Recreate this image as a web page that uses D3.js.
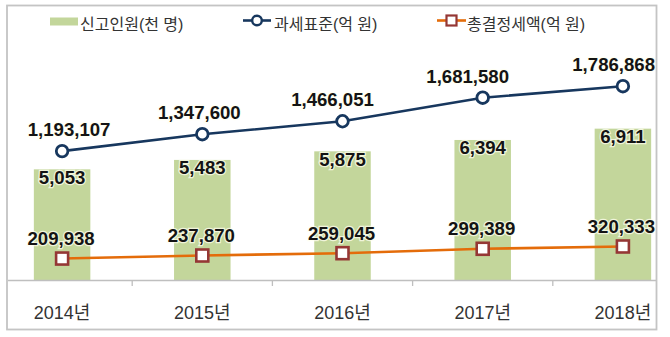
<!DOCTYPE html>
<html>
<head>
<meta charset="utf-8">
<script src="https://cdn.jsdelivr.net/npm/d3@7"></script>
<style>
  html, body { margin: 0; padding: 0; background: #fff; }
  svg { display: block; }
  text { font-family: "Liberation Sans", "Noto Sans CJK KR", sans-serif; }
</style>
</head>
<body>
<svg id="chart" width="670" height="337"></svg>
<script>
// ---- data ----
const years = ["2014년", "2015년", "2016년", "2017년", "2018년"];
const filers = [5053, 5483, 5875, 6394, 6911];                    // 신고인원(천 명)
const taxBase = [1193107, 1347600, 1466051, 1681580, 1786868];     // 과세표준(억 원)
const taxAmount = [209938, 237870, 259045, 299389, 320333];        // 총결정세액(억 원)
const seriesNames = ["신고인원(천 명)", "과세표준(억 원)", "총결정세액(억 원)"];

// ---- layout / style ----
const W = 670, H = 337;
const frame = { x0: 7, y0: 5.5, x1: 656.5, y1: 329.5 };
const baseY = 280;
const colBar = "#c3d69b", colNavy = "#17375e", colOrange = "#e46c0a", colRed = "#953735";
const baseLabelDx = [7, -3, -10, -15, 0]; // manual label nudges as in the source chart

const svg = d3.select("#chart");

svg.append("defs").append("clipPath").attr("id", "clip")
  .append("rect").attr("x", frame.x0 + 1).attr("y", frame.y0)
  .attr("width", frame.x1 - frame.x0 - 1.5).attr("height", frame.y1 - frame.y0);

const x = d3.scaleBand().domain(years).range([-8, 693]).paddingInner(0.597).paddingOuter(0.2985);
const cx = d => x(d) + x.bandwidth() / 2;
const yBar = d3.scaleLinear().domain([0, 10000]).range([baseY, 61]);
const yLine = d3.scaleLinear().domain([0, 2000000]).range([281.5, 62.9]);

const g = svg.append("g").attr("clip-path", "url(#clip)");

// bars
g.selectAll("rect.bar").data(years).join("rect").attr("class", "bar")
  .attr("x", d => x(d)).attr("width", x.bandwidth())
  .attr("y", (d, i) => yBar(filers[i]))
  .attr("height", (d, i) => baseY - yBar(filers[i]))
  .attr("fill", colBar);

// x axis
const axis = d3.axisBottom(x).tickSize(0).tickPadding(26);
const ax = g.append("g").attr("transform", `translate(0,${baseY})`).call(axis);
ax.select(".domain").attr("stroke", "#bfbfbf").attr("stroke-width", 1.3);
ax.selectAll(".tick text").attr("fill", "#333").style("font-size", "18px")
  .style("font-family", "\"Liberation Sans\", \"Noto Sans CJK KR\", sans-serif");
// category boundary ticks
g.selectAll("line.btick").data(years.slice(0, -1)).join("line").attr("class", "btick")
  .attr("x1", d => cx(d) + x.step() / 2).attr("x2", d => cx(d) + x.step() / 2)
  .attr("y1", baseY).attr("y2", baseY + 6)
  .attr("stroke", "#bfbfbf").attr("stroke-width", 1.3);

// lines
const line1 = d3.line().x((d, i) => cx(years[i])).y(d => yLine(d));
g.append("path").datum(taxBase).attr("d", line1)
  .attr("fill", "none").attr("stroke", colNavy).attr("stroke-width", 2.6);
g.append("path").datum(taxAmount).attr("d", line1)
  .attr("fill", "none").attr("stroke", colOrange).attr("stroke-width", 2.6);

// markers
g.selectAll("circle.m").data(taxBase).join("circle").attr("class", "m")
  .attr("cx", (d, i) => cx(years[i])).attr("cy", d => yLine(d)).attr("r", 5.8)
  .attr("fill", "#fff").attr("stroke", colNavy).attr("stroke-width", 2.8);
const sq = 12;
g.selectAll("rect.sq").data(taxAmount).join("rect").attr("class", "sq")
  .attr("x", (d, i) => cx(years[i]) - sq / 2).attr("y", d => yLine(d) - sq / 2)
  .attr("width", sq).attr("height", sq)
  .attr("fill", "#fff").attr("stroke", colRed).attr("stroke-width", 2.6);

// data labels
const fmt = d3.format(",");
const labelFont = "bold 18.6px 'Liberation Sans', sans-serif";
function addLabels(values, xs, ys) {
  g.selectAll(null).data(values).join("text")
    .text(d => fmt(d))
    .attr("x", (d, i) => xs(d, i)).attr("y", (d, i) => ys(d, i))
    .attr("text-anchor", "middle")
    .style("font", labelFont).attr("fill", "#141414")
    .attr("stroke", "rgba(255,255,240,0.75)").attr("stroke-width", 2.5)
    .attr("paint-order", "stroke")
    .each(function () {
      // keep labels inside the frame on the right like the source
      const bb = this.getBBox();
      const over = bb.x + bb.width - (frame.x1 - 1.5);
      if (over > 0) d3.select(this).attr("x", +d3.select(this).attr("x") - over);
    });
}
addLabels(filers, (d, i) => cx(years[i]), d => yBar(d) + 14.5);
addLabels(taxBase, (d, i) => cx(years[i]) + baseLabelDx[i], d => yLine(d) - 15);
addLabels(taxAmount, (d, i) => cx(years[i]) - 1, d => yLine(d) - 13.5);

// frame
svg.append("rect").attr("x", frame.x0).attr("y", frame.y0)
  .attr("width", frame.x1 - frame.x0).attr("height", frame.y1 - frame.y0)
  .attr("fill", "none").attr("stroke", "#c4c4c4").attr("stroke-width", 1.8);

// legend
const lg = svg.append("g");
const legFont = { size: "16px", color: "#333" };
lg.append("rect").attr("x", 50).attr("y", 17.5).attr("width", 28).attr("height", 8).attr("fill", colBar);
lg.append("text").attr("x", 80).attr("y", 30).text(seriesNames[0])
  .style("font-size", legFont.size).attr("fill", legFont.color);

lg.append("line").attr("x1", 243).attr("x2", 271).attr("y1", 20.5).attr("y2", 20.5)
  .attr("stroke", colNavy).attr("stroke-width", 2.6);
lg.append("circle").attr("cx", 257).attr("cy", 20.5).attr("r", 4.8)
  .attr("fill", "#fff").attr("stroke", colNavy).attr("stroke-width", 2.4);
lg.append("text").attr("x", 274).attr("y", 30).text(seriesNames[1])
  .style("font-size", legFont.size).attr("fill", legFont.color);

lg.append("line").attr("x1", 437).attr("x2", 466).attr("y1", 20.5).attr("y2", 20.5)
  .attr("stroke", colOrange).attr("stroke-width", 2.6);
lg.append("rect").attr("x", 451.5 - 5).attr("y", 20.5 - 5).attr("width", 10).attr("height", 10)
  .attr("fill", "#fff").attr("stroke", colRed).attr("stroke-width", 2.2);
lg.append("text").attr("x", 467).attr("y", 30).text(seriesNames[2])
  .style("font-size", legFont.size).attr("fill", legFont.color);
</script>
</body>
</html>
